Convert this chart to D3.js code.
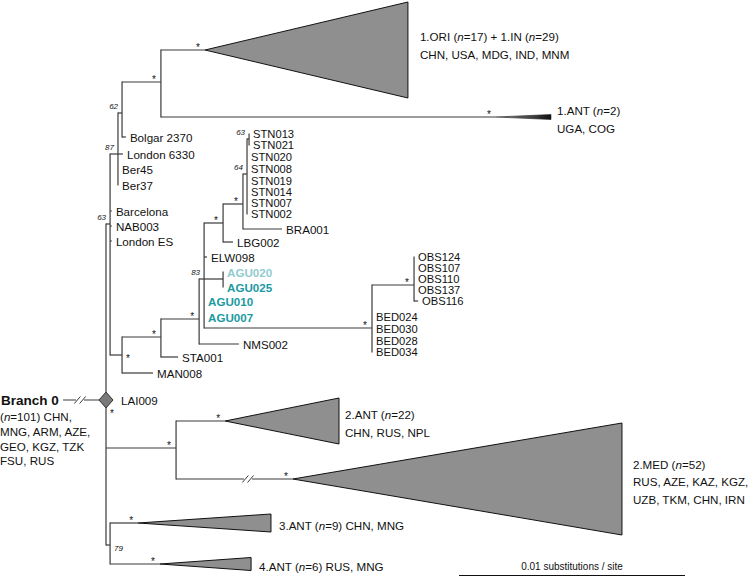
<!DOCTYPE html>
<html><head><meta charset="utf-8">
<script src="https://cdn.jsdelivr.net/npm/d3@7"></script>
<style>
body{margin:0;background:#fff}
svg{display:block}
text{font-family:"Liberation Sans",Arial,Helvetica,sans-serif;fill:#111}
</style>
</head><body>
<svg id="chart" width="750" height="578"></svg>
<script>
// depth: divergence in units of 0.0001 substitutions/site; y: vertical layout value
const internalNodes = [
  ["root", null, 0, 400],
  ["n63", "root", 1.8, 224],
  ["n87", "n63", 5.3, 154],
  ["n62", "n87", 7.1, 113],
  ["nORI", "n62", 24.3, 82],
  ["nMAN", "n63", 7.1, 355],
  ["nSTA", "nMAN", 24.3, 337],
  ["nS3", "nSTA", 41.2, 319],
  ["n83", "nS3", 43.4, 279],
  ["nLBG", "n83", 51.8, 223],
  ["nBRA", "nLBG", 60.6, 204],
  ["n64", "nBRA", 62.4, 174],
  ["n63b", "n64", 63.3, 139],
  ["nAGU", "n83", 51.8, 279],
  ["nBED", "n83", 117.7, 328],
  ["nOBS", "nBED", 136.3, 285],
  ["n2", "root", 31.0, 448],
  ["n34", "root", 1.8, 545]
];
const leaves = [
  ["Bolgar 2370", "n62", 8.8, 137, ""],
  ["London 6330", "n87", 7.5, 154, ""],
  ["Ber45", "n87", 5.3, 169, ""],
  ["Ber37", "n87", 5.3, 185, ""],
  ["Barcelona", "n63", 2.6, 211, ""],
  ["NAB003", "n63", 2.6, 226, ""],
  ["London ES", "n63", 2.6, 241, ""],
  ["STN013", "n63b", 63.3, 134, "dense"],
  ["STN021", "n63b", 63.3, 145, "dense"],
  ["STN020", "n64", 62.4, 157, "dense"],
  ["STN008", "n64", 62.4, 169, "dense"],
  ["STN019", "n64", 62.4, 181, "dense"],
  ["STN014", "n64", 62.4, 192, "dense"],
  ["STN007", "n64", 62.4, 203, "dense"],
  ["STN002", "n64", 62.4, 214, "dense"],
  ["BRA001", "nBRA", 77.9, 229, ""],
  ["LBG002", "nLBG", 56.2, 242, ""],
  ["ELW098", "n83", 44.7, 257, ""],
  ["AGU020", "nAGU", 51.8, 272, "aguLight"],
  ["AGU025", "nAGU", 51.8, 287, "agu"],
  ["AGU010", "n83", 43.4, 301, "agu"],
  ["AGU007", "n83", 43.4, 317, "agu"],
  ["OBS124", "nOBS", 136.3, 257, "dense"],
  ["OBS107", "nOBS", 136.3, 268, "dense"],
  ["OBS110", "nOBS", 136.3, 279, "dense"],
  ["OBS137", "nOBS", 136.3, 290, "dense"],
  ["OBS116", "nOBS", 138.1, 301, "dense"],
  ["BED024", "nBED", 117.7, 317, "dense"],
  ["BED030", "nBED", 117.7, 329, "dense"],
  ["BED028", "nBED", 117.7, 341, "dense"],
  ["BED034", "nBED", 117.7, 352, "dense"],
  ["NMS002", "nS3", 58.8, 344, ""],
  ["STA001", "nSTA", 31.9, 357, ""],
  ["MAN008", "nMAN", 20.8, 373, ""],
  ["LAI009", "root", 0, 400, "diamond"]
];
// collapsed clades: id, parent, apex depth, end depth, y, half spread
const clades = [
  ["1.ORI", "nORI", 43.8, 133.6, 50, 48],
  ["1.ANT", "nORI", 172.6, 196.9, 117, 2.5],
  ["2.ANT", "n2", 52.7, 103.1, 421, 23],
  ["2.MED", "n2", 82.7, 228.3, 479, 56],
  ["3.ANT", "n34", 14.2, 73.0, 523, 9],
  ["4.ANT", "n34", 23.9, 64.2, 564, 6.5]
];
const cladeLabels = {
  "1.ORI": ["1.ORI (n=17) + 1.IN (n=29)", "CHN, USA, MDG, IND, MNM"],
  "1.ANT": ["1.ANT (n=2)", "UGA, COG"],
  "2.ANT": ["2.ANT (n=22)", "CHN, RUS, NPL"],
  "2.MED": ["2.MED (n=52)", "RUS, AZE, KAZ, KGZ,", "UZB, TKM, CHN, IRN"],
  "3.ANT": ["3.ANT (n=9) CHN, MNG"],
  "4.ANT": ["4.ANT (n=6) RUS, MNG"]
};
const supportValues = [
  ["n62", "62"], ["n87", "87"], ["n63", "63"], ["n83", "83"],
  ["n64", "64"], ["n63b", "63"], ["n34", "79"]
];
const starNodes = ["nORI", "1.ORI", "1.ANT", "nMAN", "nSTA", "nS3", "nLBG", "nBRA",
  "nBED", "nOBS", "root", "n2", "2.ANT", "2.MED", "3.ANT", "4.ANT"];
const branch0Title = "Branch 0";
const branch0Lines = ["(n=101) CHN,", "MNG, ARM, AZE,", "GEO, KGZ, TZK", "FSU, RUS"];
const stemStartDepth = -19;
const breakMarks = [["stem", -11.5], ["2.MED", 62.8]];
const scaleBarStart = 156.2, scaleBarLength = 100, scaleBarLabel = "0.01 substitutions / site";

// ---- styling / layout ----
const LINE = "#3a3a3a", LW = 1.2, TRI_FILL = "#8f8f8f";
const FS = 11.6, FS_DENSE = 11.2;
const starBelow = {"nMAN": [6, 6.7], "root": [6, 16.7]};
const supportBelow = {"n34": true};
const cladeLabelDx = {"1.ORI": 12, "1.ANT": 6, "2.ANT": 6, "2.MED": 11, "3.ANT": 8, "4.ANT": 8};
const cladeLabelDy = {"1.ORI": -5};

const svg = d3.select("#chart");
const xS = d3.scaleLinear().domain([0, 100]).range([106, 332]);
const yS = d3.scaleLinear().domain([0, 578]).range([0, 578]);

const nodes = new Map();
internalNodes.forEach(([id, parent, depth, y]) => nodes.set(id, {id, parent, depth, y, type: "node"}));
leaves.forEach(([id, parent, depth, y, cls]) => nodes.set(id, {id, parent, depth, y, cls, type: "leaf"}));
clades.forEach(([id, parent, apex, end, y, half]) => nodes.set(id, {id, parent, depth: apex, end, y, half, type: "clade"}));

const children = d3.group([...nodes.values()].filter(n => n.parent), n => n.parent);

function richText(sel, str) {
  str.split(/(\bn(?==))/).forEach(p => {
    if (!p) return;
    const t = sel.append("tspan").text(p);
    if (p === "n") t.attr("font-style", "italic");
  });
}

const gLines = svg.append("g").attr("stroke", LINE).attr("stroke-width", LW).attr("fill", "none");

// horizontal branches
nodes.forEach(n => {
  if (!n.parent) return;
  const p = nodes.get(n.parent);
  const x1 = xS(p.depth), x2 = xS(n.depth);
  if (x2 - x1 < 0.5) return;
  gLines.append("line").attr("x1", x1).attr("x2", x2)
    .attr("y1", yS(n.y)).attr("y2", yS(n.y));
});
// vertical connectors
children.forEach((kids, pid) => {
  const p = nodes.get(pid);
  const ext = d3.extent(kids, k => k.y);
  gLines.append("line").attr("x1", xS(p.depth)).attr("x2", xS(p.depth))
    .attr("y1", yS(ext[0]) - LW / 2).attr("y2", yS(ext[1]) + LW / 2);
});

// Branch 0 stem
const root = nodes.get("root");
gLines.append("line").attr("x1", xS(stemStartDepth)).attr("x2", xS(root.depth))
  .attr("y1", yS(root.y)).attr("y2", yS(root.y));

// collapsed clade triangles
const defs = svg.append("defs");
const grad = defs.append("linearGradient").attr("id", "antGrad");
grad.append("stop").attr("offset", "0%").attr("stop-color", "#9a9a9a");
grad.append("stop").attr("offset", "100%").attr("stop-color", "#111");
clades.forEach(([id]) => {
  const c = nodes.get(id);
  const xa = xS(c.depth), xe = xS(c.end);
  const pts = [[xa, yS(c.y)], [xe, yS(c.y - c.half)], [xe, yS(c.y + c.half)]];
  svg.append("path").attr("d", d3.line()(pts) + "Z")
    .attr("fill", c.half < 4 ? "url(#antGrad)" : TRI_FILL)
    .attr("stroke", c.half < 4 ? "#222" : "#111")
    .attr("stroke-width", c.half < 4 ? 0.6 : 1)
    .attr("stroke-linejoin", "miter");
});

// break marks "//"
breakMarks.forEach(([id, d]) => {
  const y = id === "stem" ? yS(root.y) : yS(nodes.get(id).y);
  const x = xS(d);
  svg.append("rect").attr("x", x - 4).attr("y", y - 3).attr("width", 8).attr("height", 6).attr("fill", "#fff");
  [-2.6, 2.6].forEach(o => {
    svg.append("line").attr("x1", x + o - 3).attr("y1", y + 3.5).attr("x2", x + o + 3).attr("y2", y - 3.5)
      .attr("stroke", LINE).attr("stroke-width", 1);
  });
});

// diamond at root
const dx = xS(root.depth), dy = yS(root.y);
svg.append("path").attr("d", d3.line()([[dx - 7, dy], [dx, dy - 8], [dx + 7, dy], [dx, dy + 8]]) + "Z")
  .attr("fill", "#7a7a7a").attr("stroke", "#333").attr("stroke-width", 1);

// leaf labels
leaves.forEach(([id]) => {
  const n = nodes.get(id);
  const gap = n.cls === "diamond" ? 15 : 4;
  const t = svg.append("text").attr("x", xS(n.depth) + gap).attr("y", yS(n.y))
    .attr("dominant-baseline", "central").attr("font-size", n.cls === "dense" ? FS_DENSE : FS).text(n.id);
  if (n.cls === "agu") t.style("fill", "#1b9aa0").attr("font-weight", "bold");
  if (n.cls === "aguLight") t.style("fill", "#92cbcf").attr("font-weight", "bold");
});

// clade labels
clades.forEach(([id]) => {
  const c = nodes.get(id);
  const lines = cladeLabels[id];
  const lh = 17.5;
  const y0 = yS(c.y) + (cladeLabelDy[id] !== undefined ? cladeLabelDy[id] : 2) - (lines.length - 1) * lh / 2;
  lines.forEach((ln, i) => {
    const t = svg.append("text").attr("x", xS(c.end) + cladeLabelDx[id]).attr("y", y0 + i * lh)
      .attr("dominant-baseline", "central").attr("font-size", FS);
    richText(t, ln);
  });
});

// Branch 0 label block
svg.append("text").attr("x", 1).attr("y", dy).attr("dominant-baseline", "central")
  .attr("font-size", 13.5).attr("font-weight", "bold").text(branch0Title);
branch0Lines.forEach((ln, i) => {
  const t = svg.append("text").attr("x", 0).attr("y", dy + 16 + i * 14.8)
    .attr("dominant-baseline", "central").attr("font-size", FS);
  richText(t, ln);
});

// stars
starNodes.forEach(id => {
  const n = nodes.get(id);
  let x = xS(n.depth) - 7, y = yS(n.y) + 0.7;
  if (starBelow[id]) { x = xS(n.depth) + starBelow[id][0]; y = yS(n.y) + starBelow[id][1]; }
  svg.append("text").attr("x", x).attr("y", y).attr("text-anchor", "middle")
    .attr("font-size", 10).text("*");
});

// support values
supportValues.forEach(([id, v]) => {
  const n = nodes.get(id);
  const below = supportBelow[id];
  svg.append("text")
    .attr("x", below ? xS(n.depth) + 4 : xS(n.depth) - 4)
    .attr("y", below ? yS(n.y) + 6 : yS(n.y) - 4)
    .attr("text-anchor", below ? "start" : "end")
    .attr("font-size", 8).attr("font-style", "italic").text(v);
});

// scale bar
const sb1 = xS(scaleBarStart), sb2 = xS(scaleBarStart + scaleBarLength);
svg.append("line").attr("x1", sb1).attr("x2", sb2).attr("y1", 575.5).attr("y2", 575.5)
  .attr("stroke", "#111").attr("stroke-width", 1.2);
svg.append("text").attr("x", (sb1 + sb2) / 2).attr("y", 569.5).attr("text-anchor", "middle")
  .attr("font-size", 10).text(scaleBarLabel);
</script>
</body></html>
